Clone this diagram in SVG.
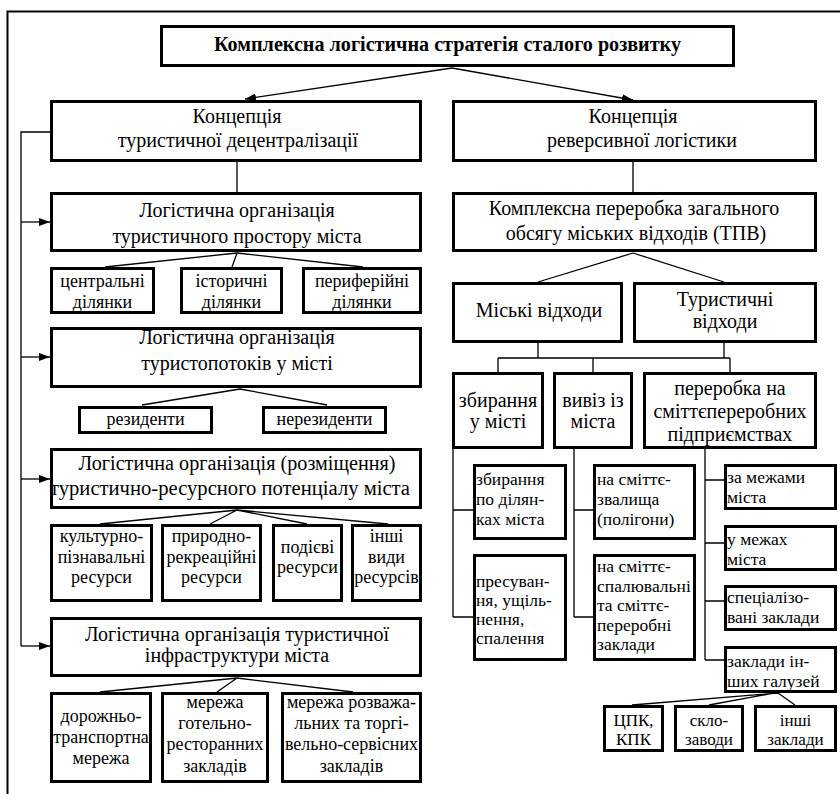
<svg xmlns="http://www.w3.org/2000/svg" width="840" height="794" viewBox="0 0 840 794" font-family="'Liberation Serif', 'Times New Roman', serif">
<defs>
<style>
.box{fill:#fff;stroke:#000;stroke-width:3}
.ln{fill:none;stroke:#000;stroke-width:1.3}
text{font-family:"Liberation Serif","Times New Roman",serif;fill:#000}
.t1{font-size:20px;text-anchor:middle}
.t2{font-size:18px;text-anchor:middle}
.t3{font-size:17.5px}
.t4{font-size:17px;text-anchor:middle}
.tb{font-size:20px;font-weight:bold;text-anchor:middle}
</style>
<marker id="ar" markerUnits="userSpaceOnUse" markerWidth="12" markerHeight="10" refX="11" refY="4" orient="auto">
<path d="M0,0 L11,4 L0,8 z" fill="#000"/>
</marker>
</defs>
<rect width="840" height="794" fill="#fff"/>
<path d="M7.5,794 V11.5 H840" fill="none" stroke="#000" stroke-width="2"/>

<g id="connectors">
<path class="ln" d="M452,68 L245,99" marker-end="url(#ar)"/>
<path class="ln" d="M452,68 L633,100" marker-end="url(#ar)"/>
<path class="ln" d="M237,162 V192"/>
<path class="ln" d="M50,132 H21 V646"/>
<path class="ln" d="M21,222 H50" marker-end="url(#ar)"/>
<path class="ln" d="M21,357 H50" marker-end="url(#ar)"/>
<path class="ln" d="M21,479 H50" marker-end="url(#ar)"/>
<path class="ln" d="M21,646 H50" marker-end="url(#ar)"/>
<path class="ln" d="M237,253 L105,267 M237,253 L232,267 M237,253 L363,267"/>
<path class="ln" d="M240,389 L142,405 M240,389 L327,405"/>
<path class="ln" d="M237,510 L100,524 M237,510 L210,524 M237,510 L307,524 M237,510 L388,524"/>
<path class="ln" d="M237,678 L100,692 M237,678 L217,692 M237,678 L353,692"/>
<path class="ln" d="M633,162 V192"/>
<path class="ln" d="M633,253 L538,282 M633,253 L724,282"/>
<path class="ln" d="M538,343 V358 M724,343 V358 M498,358 H730 M498,358 V372 M593,358 V372 M730,358 V372"/>
<path class="ln" d="M453,449 V617 M453,510 H473 M453,617 H473"/>
<path class="ln" d="M574,449 V617 M574,510 H593 M574,617 H593"/>
<path class="ln" d="M705,449 V660 M705,480 H724 M705,543 H724 M705,601 H724 M705,660 H724"/>
<path class="ln" d="M778,693 L632,705 M774,693 L709,705 M778,693 L795,705"/>
</g>

<g id="n_top"><rect class="box" x="161.5" y="26.5" width="572" height="39"/><text class="tb" x="447.5" y="51" textLength="467" lengthAdjust="spacingAndGlyphs">Комплексна логістична стратегія сталого розвитку</text></g>

<g id="n_decentr"><rect class="box" x="51.5" y="101.5" width="369" height="59"/><text class="t1" x="237" y="123">Концепція</text><text class="t1" x="238" y="147">туристичної децентралізації</text></g>

<g id="n_space"><rect class="box" x="51.5" y="193.5" width="369" height="57"/><text class="t1" x="237" y="217">Логістична організація</text><text class="t1" x="237" y="243">туристичного простору міста</text></g>
<g id="n_central"><rect class="box" x="51.5" y="268.5" width="102" height="44"/><text class="t2" x="102.5" y="287">центральні</text><text class="t2" x="102.5" y="308">ділянки</text></g>
<g id="n_hist"><rect class="box" x="181.5" y="268.5" width="100" height="44"/><text class="t2" x="231.5" y="287">історичні</text><text class="t2" x="231.5" y="308">ділянки</text></g>
<g id="n_periph"><rect class="box" x="303.5" y="268.5" width="117" height="44"/><text class="t2" x="362" y="287">периферійні</text><text class="t2" x="362" y="308">ділянки</text></g>

<g id="n_flows"><rect class="box" x="51.5" y="328.5" width="369" height="58"/><text class="t1" x="237" y="344">Логістична організація</text><text class="t1" x="237" y="370">туристопотоків у місті</text></g>
<g id="n_res"><rect class="box" x="79.5" y="407.5" width="132" height="25"/><text class="t2" x="145.5" y="425">резиденти</text></g>
<g id="n_nonres"><rect class="box" x="263.5" y="407.5" width="122" height="25"/><text class="t2" x="324.5" y="425">нерезиденти</text></g>

<g id="n_potential"><rect class="box" x="51.5" y="449.5" width="369" height="58"/><text class="t1" x="237" y="470" textLength="317" lengthAdjust="spacingAndGlyphs">Логістична організація (розміщення)</text><text class="t1" x="230" y="495" textLength="360" lengthAdjust="spacingAndGlyphs">туристично-ресурсного потенціалу міста</text></g>
<g id="n_cult"><rect class="box" x="51.5" y="525.5" width="100" height="75"/><text class="t2" x="101.5" y="542">культурно-</text><text class="t2" x="101.5" y="563">пізнавальні</text><text class="t2" x="101.5" y="583">ресурси</text></g>
<g id="n_nat"><rect class="box" x="162.5" y="525.5" width="98" height="75"/><text class="t2" x="211.5" y="542">природно-</text><text class="t2" x="211.5" y="563">рекреаційні</text><text class="t2" x="211.5" y="583">ресурси</text></g>
<g id="n_event"><rect class="box" x="273.5" y="525.5" width="68" height="75"/><text class="t2" x="307.5" y="553">подієві</text><text class="t2" x="307.5" y="573">ресурси</text></g>
<g id="n_other"><rect class="box" x="352.5" y="525.5" width="68" height="75"/><text class="t2" x="386.5" y="542">інші</text><text class="t2" x="386.5" y="563">види</text><text class="t2" x="386.5" y="583">ресурсів</text></g>

<g id="n_infra"><rect class="box" x="51.5" y="618.5" width="369" height="57"/><text class="t1" x="237" y="641">Логістична організація туристичної</text><text class="t1" x="237" y="662">інфраструктури міста</text></g>
<g id="n_road"><rect class="box" x="51.5" y="693.5" width="99" height="88"/><text class="t2" x="101" y="722">дорожньо-</text><text class="t2" x="101" y="743">транспортна</text><text class="t2" x="101" y="764">мережа</text></g>
<g id="n_hotel"><rect class="box" x="162.5" y="693.5" width="105" height="88"/><text class="t2" x="215" y="708">мережа</text><text class="t2" x="215" y="729">готельно-</text><text class="t2" x="215" y="750">ресторанних</text><text class="t2" x="215" y="772">закладів</text></g>
<g id="n_ent"><rect class="box" x="282.5" y="693.5" width="138" height="88"/><text class="t2" x="351.5" y="708">мережа розважа-</text><text class="t2" x="351.5" y="729">льних та торгі-</text><text class="t2" x="351.5" y="750">вельно-сервісних</text><text class="t2" x="351.5" y="772">закладів</text></g>

<g id="n_reverse"><rect class="box" x="453.5" y="101.5" width="362" height="59"/><text class="t1" x="633" y="123">Концепція</text><text class="t1" x="642" y="147">реверсивної логістики</text></g>
<g id="n_complex"><rect class="box" x="453.5" y="193.5" width="362" height="57"/><text class="t1" x="634" y="215">Комплексна переробка загального</text><text class="t1" x="636" y="240">обсягу міських відходів (ТПВ)</text></g>
<g id="n_city"><rect class="box" x="453.5" y="283.5" width="168" height="58"/><text class="t1" x="539" y="317">Міські відходи</text></g>
<g id="n_tour"><rect class="box" x="634.5" y="283.5" width="181" height="58"/><text class="t1" x="725" y="306">Туристичні</text><text class="t1" x="725" y="328">відходи</text></g>

<g id="n_collect"><rect class="box" x="453.5" y="373.5" width="89" height="74"/><text class="t1" x="498" y="407">збирання</text><text class="t1" x="498" y="428">у місті</text></g>
<g id="n_export"><rect class="box" x="554.5" y="373.5" width="77" height="74"/><text class="t1" x="593" y="407">вивіз із</text><text class="t1" x="593" y="428">міста</text></g>
<g id="n_process"><rect class="box" x="644.5" y="373.5" width="171" height="74"/><text class="t1" x="730" y="395">переробка на</text><text class="t1" x="730" y="418">сміттєпереробних</text><text class="t1" x="730" y="441">підприємствах</text></g>

<g id="n_areas"><rect class="box" x="474.5" y="465.5" width="91" height="73"/><text class="t3" x="476" y="485">збирання</text><text class="t3" x="476" y="505">по ділян-</text><text class="t3" x="476" y="525">ках міста</text></g>
<g id="n_press"><rect class="box" x="474.5" y="555.5" width="91" height="104"/><text class="t3" x="476" y="587">пресуван-</text><text class="t3" x="476" y="606">ня, ущіль-</text><text class="t3" x="476" y="625">нення,</text><text class="t3" x="476" y="644">спалення</text></g>
<g id="n_landfill"><rect class="box" x="594.5" y="465.5" width="100" height="73"/><text class="t3" x="597" y="485">на сміттє-</text><text class="t3" x="597" y="505">звалища</text><text class="t3" x="597" y="525">(полігони)</text></g>
<g id="n_incin"><rect class="box" x="594.5" y="555.5" width="100" height="104"/><text class="t3" x="597" y="572">на сміттє-</text><text class="t3" x="597" y="591.5">спалювальні</text><text class="t3" x="597" y="611">та сміттє-</text><text class="t3" x="597" y="630.5">переробні</text><text class="t3" x="597" y="650">заклади</text></g>

<g id="n_outside"><rect class="box" x="725.5" y="465.5" width="110" height="43"/><text class="t3" x="727" y="483">за межами</text><text class="t3" x="727" y="503">міста</text></g>
<g id="n_inside"><rect class="box" x="725.5" y="526.5" width="110" height="43"/><text class="t3" x="727" y="545">у межах</text><text class="t3" x="727" y="565">міста</text></g>
<g id="n_special"><rect class="box" x="725.5" y="586.5" width="110" height="43"/><text class="t3" x="727" y="603">спеціалізо-</text><text class="t3" x="727" y="623">вані заклади</text></g>
<g id="n_otherind"><rect class="box" x="725.5" y="647.5" width="110" height="44"/><text class="t3" x="727" y="667">заклади ін-</text><text class="t3" x="727" y="687">ших галузей</text></g>

<g id="n_cpk"><rect class="box" x="604.5" y="706.5" width="58" height="44"/><text class="t4" x="633.5" y="726">ЦПК,</text><text class="t4" x="633.5" y="745">КПК</text></g>
<g id="n_glass"><rect class="box" x="675.5" y="706.5" width="67" height="44"/><text class="t4" x="709" y="726">скло-</text><text class="t4" x="709" y="745">заводи</text></g>
<g id="n_otherinst"><rect class="box" x="755.5" y="706.5" width="80" height="44"/><text class="t4" x="795.5" y="726">інші</text><text class="t4" x="795.5" y="745">заклади</text></g>
</svg>
